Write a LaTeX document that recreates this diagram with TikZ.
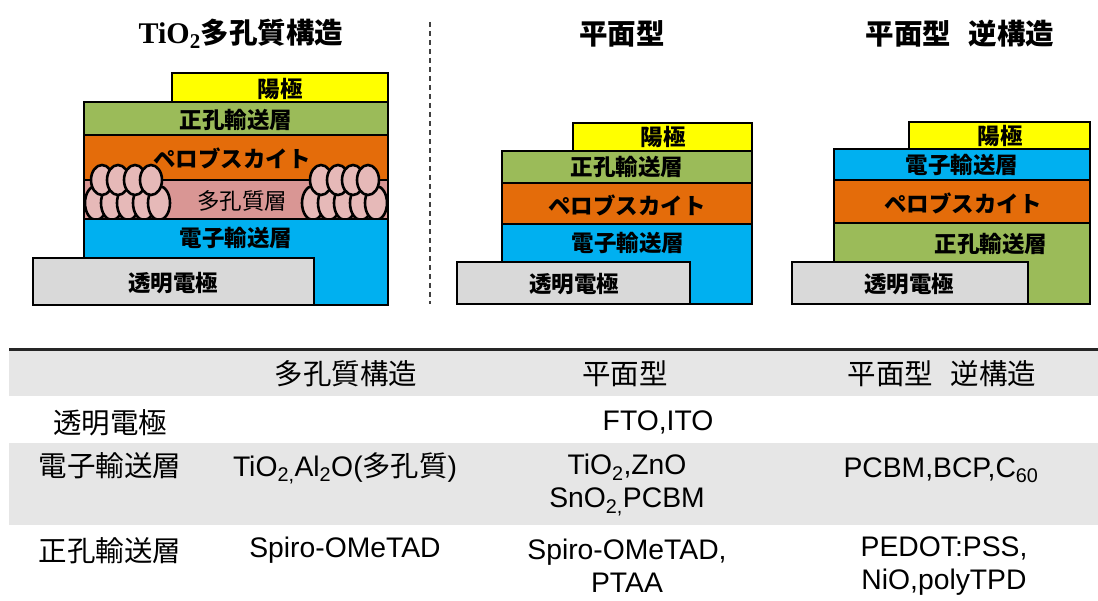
\documentclass[tikz,border=0pt]{standalone}
\usepackage{fontspec}
\setmainfont{Liberation Sans}
\newfontfamily\jp{Noto Sans CJK JP}
\newfontfamily\tmsb{Liberation Serif}
\definecolor{anodeY}{HTML}{FFFF00}
\definecolor{htlG}{HTML}{9BBB59}
\definecolor{pvkO}{HTML}{E46C0A}
\definecolor{poreP}{HTML}{D99694}
\definecolor{grainP}{HTML}{E6B9B8}
\definecolor{etlB}{HTML}{00B0F0}
\definecolor{tcoG}{HTML}{D9D9D9}
\definecolor{bandG}{HTML}{E6E6E6}
% one layer of a device stack: name, x1, y1, x2, y2, fill
\newcommand\slab[6]{\node[layer,fill=#6,minimum width={(#4-#2)*1pt},minimum height={(#5-#3)*1pt}] (#1) at ({(#2+#4)/2},{(#3+#5)/2}) {};}
\begin{document}
\begin{tikzpicture}[x=1pt,y=-1pt,
  layer/.style={draw=black,line width=2.4pt,inner sep=0pt,outer sep=0pt},
  lab/.style={font=\jp\bfseries\fontsize{22.5}{24}\selectfont,inner sep=0pt},
  ttl/.style={font=\jp\bfseries\fontsize{28.5}{30}\selectfont,inner sep=0pt},
  thd/.style={font=\jp\fontsize{28.5}{30}\selectfont,inner sep=0pt},
  tcell/.style={font=\fontsize{28.3}{33}\selectfont,inner sep=0pt,align=center},
  grain/.style={draw=black,line width=2.6pt,fill=grainP},
]
\useasboundingbox (0,0) rectangle (1098,601);
\fill[white] (0,0) rectangle (1098,601);

% ---------- titles ----------
\node[inner sep=0pt] (t1) at (241,34) {{\tmsb\bfseries\fontsize{30}{32}\selectfont TiO\textsubscript{2}}{\jp\bfseries\fontsize{28.5}{30}\selectfont 多孔質構造}};
\node[ttl] (t2) at (622,34) {平面型};
\node[ttl] (t3) at (960,34) {平面型\hspace{0.6em}逆構造};

% separator
\coordinate (sepA) at (430,22);
\coordinate (sepB) at (430,304);
\draw[black!75,line width=1.3pt,dash pattern=on 5pt off 4pt] (sepA) -- (sepB);

% ---------- mesoporous stack ----------
\slab{a1}{172}{73}{388}{102}{anodeY}
\slab{h1}{84}{102}{388}{135}{htlG}
\slab{p1}{84}{135}{388}{180}{pvkO}
\slab{m1}{84}{180}{388}{219}{poreP}
\begin{scope}
  \clip (85,150) rectangle (387,219);
  % lower row of grains
  \foreach \x in {96,112,128,144,159}{\draw[grain] (\x,203) ellipse [x radius=11,y radius=17];}
  \foreach \x in {313,329,345,361,376}{\draw[grain] (\x,203) ellipse [x radius=11,y radius=17];}
  % upper row of grains
  \foreach \x in {102,118,135,151}{\draw[grain] (\x,180) ellipse [x radius=11,y radius=15];}
  \foreach \x in {321,338,353,368}{\draw[grain] (\x,180) ellipse [x radius=11,y radius=15];}
\end{scope}
\slab{e1}{84}{219}{388}{305}{etlB}
\slab{g1}{33}{258}{314}{305}{tcoG}
\node[lab] (la1) at (280,89) {陽極};
\node[lab] (lh1) at (236,120) {正孔輸送層};
\node[lab] (lp1) at (232,158) {ペロブスカイト};
\node[lab,font=\jp\fontsize{22.5}{24}\selectfont] (lm1) at (242,201) {多孔質層};
\node[lab] (le1) at (236,238) {電子輸送層};
\node[lab] (lg1) at (173,283) {透明電極};

% ---------- planar stack ----------
\slab{a2}{573}{123}{752}{151}{anodeY}
\slab{h2}{502}{151}{752}{183}{htlG}
\slab{p2}{502}{183}{752}{224}{pvkO}
\slab{e2}{502}{224}{752}{304}{etlB}
\slab{g2}{457}{262}{690}{304}{tcoG}
\node[lab] (la2) at (663,137) {陽極};
\node[lab] (lh2) at (627,167) {正孔輸送層};
\node[lab] (lp2) at (627,205) {ペロブスカイト};
\node[lab] (le2) at (628,243) {電子輸送層};
\node[lab] (lg2) at (574,284) {透明電極};

% ---------- inverted planar stack ----------
\slab{a3}{909}{122}{1090}{149}{anodeY}
\slab{e3}{834}{149}{1090}{180}{etlB}
\slab{p3}{834}{180}{1090}{223}{pvkO}
\slab{h3}{834}{223}{1090}{304}{htlG}
\slab{g3}{792}{262}{1028}{304}{tcoG}
\node[lab] (la3) at (1000,136) {陽極};
\node[lab] (le3) at (962,165) {電子輸送層};
\node[lab] (lp3) at (963,203) {ペロブスカイト};
\node[lab] (lh3) at (991,244) {正孔輸送層};
\node[lab] (lg3) at (909,284) {透明電極};

% ---------- material table ----------
\fill[bandG] (9,351) rectangle (1098,396);
\fill[bandG] (9,443) rectangle (1098,525);
\coordinate (ruleA) at (9,350);
\coordinate (ruleB) at (1098,350);
\draw[black!85,line width=3pt] (ruleA) -- (ruleB);

\node[thd] (hc1) at (346,374) {多孔質構造};
\node[thd] (hc2) at (625,374) {平面型};
\node[thd] (hc3) at (942,374) {平面型\hspace{0.6em}逆構造};

\node[thd] (r1) at (110,423) {透明電極};
\node[thd] (r2) at (110,466) {電子輸送層};
\node[thd] (r3) at (110,551) {正孔輸送層};

\node[tcell] (c11) at (658,422) {FTO,ITO};
\node[tcell] (c21) at (345,468) {TiO\textsubscript{2,}Al\textsubscript{2}O({\jp 多孔質})};
\node[tcell] (c22) at (627,485) {TiO\textsubscript{2},ZnO\\SnO\textsubscript{2,}PCBM};
\node[tcell] (c23) at (941,470) {PCBM,BCP,C\textsubscript{60}};
\node[tcell] (c31) at (345,550) {Spiro-OMeTAD};
\node[tcell] (c32) at (627,566) {Spiro-OMeTAD,\\PTAA};
\node[tcell] (c33) at (944,566) {PEDOT:PSS,\\NiO,polyTPD};
\end{tikzpicture}
\end{document}
